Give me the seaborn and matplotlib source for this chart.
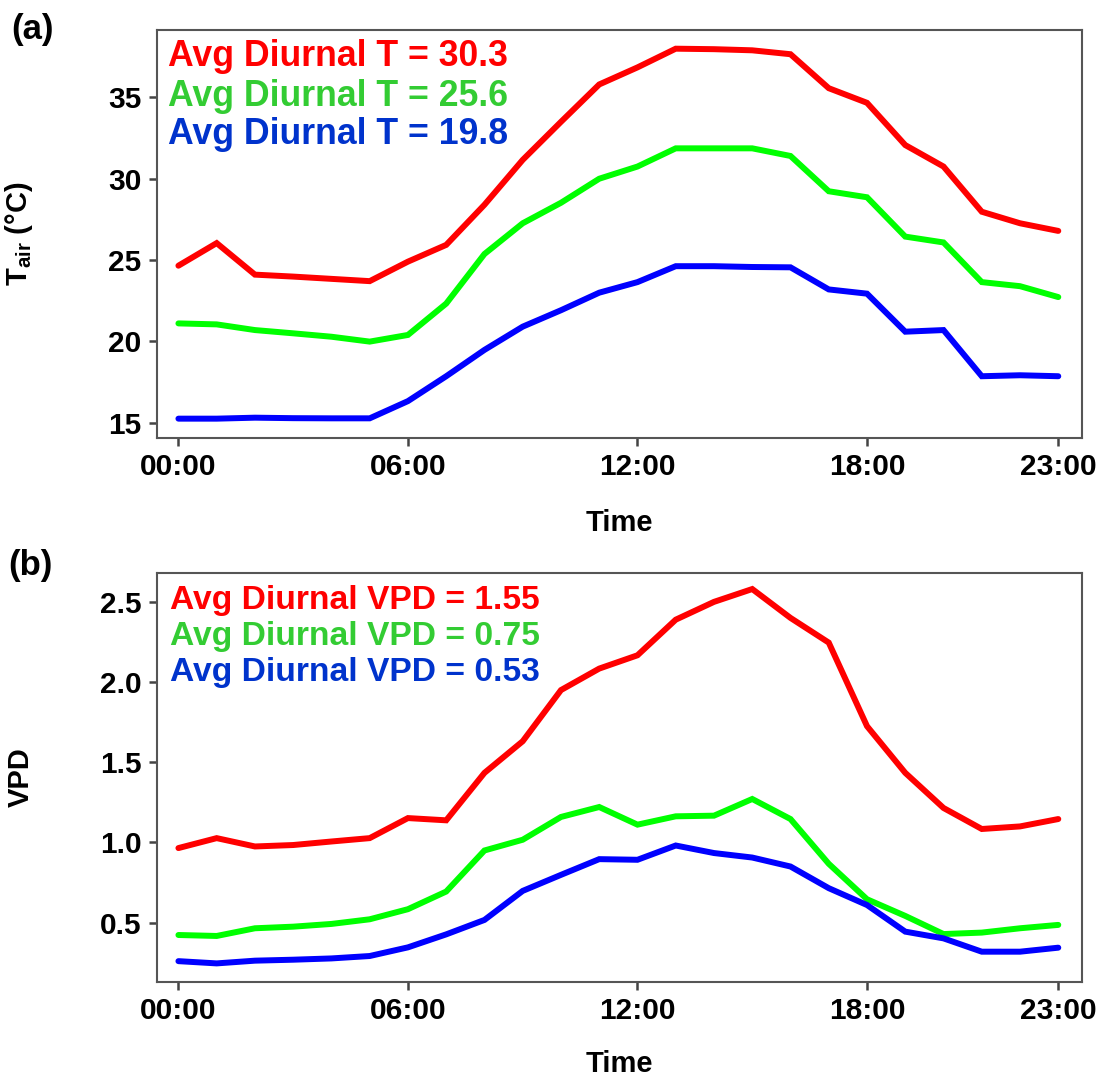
import numpy as np
import pandas as pd
import matplotlib
matplotlib.use("Agg")
import matplotlib.pyplot as plt
import seaborn as sns

# Hourly means (hour 0..23) for three site groups
hours = list(range(24))

tair_red = [24.65, 26.04, 24.10, 23.98, 23.84, 23.70, 24.90, 25.93, 28.40, 31.16, 33.50, 35.80,
            36.85, 38.00, 37.97, 37.90, 37.66, 35.57, 34.67, 32.07, 30.75, 27.97, 27.26, 26.79]
tair_green = [21.10, 21.04, 20.69, 20.49, 20.28, 19.98, 20.39, 22.32, 25.37, 27.26, 28.52, 30.00,
              30.75, 31.87, 31.87, 31.87, 31.40, 29.23, 28.86, 26.44, 26.08, 23.64, 23.39, 22.72]
tair_blue = [15.24, 15.24, 15.30, 15.27, 15.26, 15.26, 16.32, 17.85, 19.47, 20.90, 21.91, 22.99,
             23.64, 24.62, 24.62, 24.57, 24.55, 23.19, 22.93, 20.59, 20.69, 17.85, 17.91, 17.85]

vpd_red = [0.965, 1.027, 0.975, 0.984, 1.006, 1.027, 1.152, 1.138, 1.434, 1.631, 1.950, 2.084,
           2.167, 2.389, 2.500, 2.580, 2.400, 2.246, 1.725, 1.434, 1.215, 1.084, 1.100, 1.146]
vpd_green = [0.423, 0.417, 0.465, 0.475, 0.492, 0.521, 0.584, 0.694, 0.950, 1.017, 1.159, 1.221,
             1.111, 1.163, 1.167, 1.271, 1.146, 0.867, 0.646, 0.542, 0.429, 0.438, 0.465, 0.486]
vpd_blue = [0.260, 0.246, 0.263, 0.269, 0.277, 0.292, 0.346, 0.427, 0.517, 0.698, 0.798, 0.896,
            0.892, 0.981, 0.934, 0.906, 0.850, 0.715, 0.610, 0.444, 0.402, 0.319, 0.319, 0.344]

groups = ["red", "green", "blue"]
tair_labels = ["Avg Diurnal T = 30.3", "Avg Diurnal T = 25.6", "Avg Diurnal T = 19.8"]
vpd_labels = ["Avg Diurnal VPD = 1.55", "Avg Diurnal VPD = 0.75", "Avg Diurnal VPD = 0.53"]
xtick_pos = [0, 6, 12, 18, 23]
xtick_labels = ["00:00", "06:00", "12:00", "18:00", "23:00"]

line_colors = {"red": "#FF0000", "green": "#00FF00", "blue": "#0000FF"}
text_colors = ["#FF0000", "#33CC33", "#0033CC"]

sns.set_theme(style="white")
plt.rcParams["font.family"] = ["Liberation Sans", "DejaVu Sans"]
plt.rcParams["font.weight"] = "bold"
plt.rcParams["text.color"] = "black"
plt.rcParams["mathtext.fontset"] = "custom"
plt.rcParams["mathtext.rm"] = "Liberation Sans:bold"
plt.rcParams["mathtext.it"] = "Liberation Sans:bold"
plt.rcParams["mathtext.bf"] = "Liberation Sans:bold"


def long_frame(series):
    rows = []
    for g, vals in zip(groups, series):
        for h, v in zip(hours, vals):
            rows.append({"hour": h, "value": v, "group": g})
    return pd.DataFrame(rows)


W, H = 1104, 1081
fig = plt.figure(figsize=(W / 100, H / 100), dpi=100)


def px_axes(left, top, right, bottom):
    return fig.add_axes([left / W, 1 - bottom / H, (right - left) / W, (bottom - top) / H])


ax_a = px_axes(157, 30, 1082, 438)
ax_b = px_axes(157, 573, 1082, 982)

panels = [
    (ax_a, long_frame([tair_red, tair_green, tair_blue]), tair_labels,
     (14.05, 39.15), [15, 20, 25, 30, 35], ["15", "20", "25", "30", "35"],
     r"$\mathrm{T_{air}}$ (°C)", [57, 96, 134], 168, -0.174, 25.7),
    (ax_b, long_frame([vpd_red, vpd_green, vpd_blue]), vpd_labels,
     (0.13, 2.68), [0.5, 1.0, 1.5, 2.0, 2.5], ["0.5", "1.0", "1.5", "2.0", "2.5"],
     "VPD", [600, 636, 672], 170, -0.166, 24.2),
]

for ax, df, labels, ylim, yticks, yticklabels, ylabel, text_y, text_x, xlab_y, note_size in panels:
    sns.lineplot(data=df, x="hour", y="value", hue="group", palette=line_colors,
                 linewidth=4.3, legend=False, ax=ax, solid_joinstyle="miter")
    ax.set_xlim(-0.56, 23.62)
    ax.set_ylim(*ylim)
    ax.set_xticks(xtick_pos)
    ax.set_xticklabels(xtick_labels)
    ax.set_yticks(yticks)
    ax.set_yticklabels(yticklabels)
    ax.tick_params(axis="both", which="both", direction="out", length=5.5, width=1.8,
                   color="#444444", labelsize=21.5, labelcolor="black", pad=5.5,
                   bottom=True, left=True)
    for lab in ax.get_xticklabels() + ax.get_yticklabels():
        lab.set_fontweight("bold")
    for sp in ax.spines.values():
        sp.set_color("#555555")
        sp.set_linewidth(1.5)
    ax.set_xlabel("Time", fontsize=21, fontweight="bold", color="black")
    ax.set_ylabel(ylabel, fontsize=21, fontweight="bold", color="black")
    ax.xaxis.set_label_coords(0.5, xlab_y)
    ax.yaxis.set_label_coords(-0.132, 0.5)
    for lbl, col, ty in zip(labels, text_colors, text_y):
        fig.text(text_x / W, 1 - ty / H, lbl, color=col, fontsize=note_size,
                 fontweight="bold", ha="left", va="center")

fig.text(11 / W, 1 - 29 / H, "(a)", fontsize=25, fontweight="bold", color="black",
         ha="left", va="center")
fig.text(8 / W, 1 - 566 / H, "(b)", fontsize=25, fontweight="bold", color="black",
         ha="left", va="center")

fig.savefig("out.png", dpi=100, facecolor="white")
